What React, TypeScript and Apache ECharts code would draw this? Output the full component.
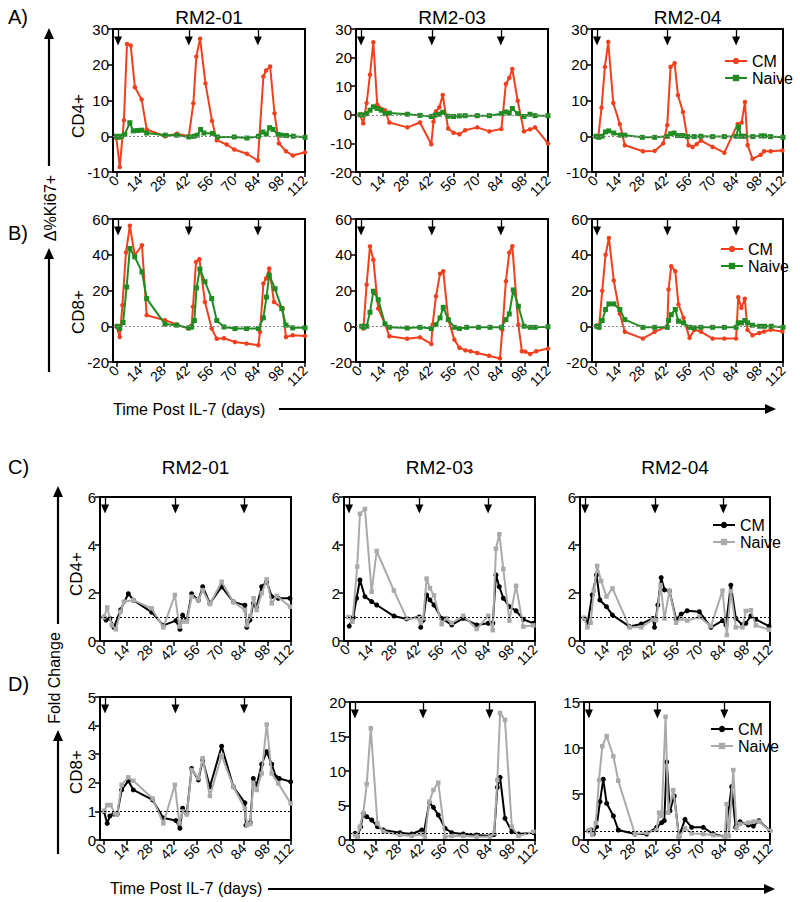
import React, { useEffect, useRef } from 'react';
import * as echarts from 'echarts';

// ---------- axis / category info ----------
const X_TICKS = [0, 14, 28, 42, 56, 70, 84, 98, 112];
const ARROW_DAYS = [1, 43, 84];
const SUBJECTS = ['RM2-01', 'RM2-03', 'RM2-04'];

// ---------- data: [day, value] ----------
// A) CD4+  Δ%Ki67+
const A1_CM = [[0,-0.5],[2,-8.6],[4.5,4.5],[6.3,25.8],[8.5,25.4],[11,13.7],[15,10.3],[18,1.9],[29,0],[36,0.7],[43,0],[45.7,9.2],[47.5,22.3],[49.7,27.3],[52.9,14.8],[56.8,4.3],[59.6,-1.1],[65.5,-2.3],[70,-3.7],[77.5,-4.9],[84,-6.8],[87.3,16.7],[88.9,18.4],[91.3,19.5],[93.9,6.4],[96.5,-2],[100.7,-4.2],[104.8,-5.4],[112,-4.5]];
const A1_NAIVE = [[0,0],[1.2,-0.3],[3,0],[5,0.5],[8,3.8],[10,1.5],[12.5,1.6],[15,1.7],[18,0.9],[29,0.3],[36,0.3],[43,-0.2],[46,0],[48,0.3],[50,1.9],[52,0.9],[57,0.8],[60,-0.2],[70,-0.2],[77.5,-0.5],[84.4,0],[87,1.2],[89,0.6],[91,2.4],[93,1.9],[96,0.5],[98,0.3],[101,0.2],[105,0],[112,-0.3]];
const A2_CM = [[0.4,0],[2.3,-3],[4.3,4.1],[6.3,14],[8.3,25.4],[10.6,3.5],[15.2,1.6],[17.8,-2.7],[28.5,-4.4],[36,-2.7],[42.7,-10.3],[44,-2.4],[45.5,1.2],[47.5,2.6],[49.5,6.9],[52.7,-4.8],[55.9,-6.3],[59.4,-6.8],[62.8,-5.4],[70,-4.4],[77.2,-5.8],[84.3,-5],[87,10.8],[89,12.9],[90.8,16],[94,4.9],[97.7,-5.8],[101.3,-5.1],[104.3,-4.4],[112,-10]];
const A2_NAIVE = [[0.4,0],[2.3,0],[4.3,0.4],[6.3,1.6],[8.3,2.8],[10.6,2.2],[13,1.6],[15.2,0.4],[17.8,0.6],[28.5,0.2],[36,-0.2],[42.7,-0.6],[45,-0.1],[47.5,0.2],[49.5,0.9],[52.7,-0.5],[55.9,-0.6],[59.4,-0.4],[62.8,-0.3],[70,-0.3],[77.2,-0.3],[84.3,0.4],[87,1],[89,0.6],[90.8,2.2],[94,0.4],[97.7,-0.6],[101.3,0.2],[104.3,-0.3],[112,-0.3]];
const A3_CM = [[0.4,0],[1.8,0],[3.7,8],[5.7,19.4],[7.7,26.4],[10.7,9.3],[14.6,3.4],[17.6,-2.5],[28.4,-4.2],[35.4,-4.1],[40.5,-2],[42.9,3.1],[44.9,19.4],[47.3,20.4],[49.3,11.5],[52.3,6.8],[55.6,-2.5],[58,-3],[60.5,-2.2],[63,-1.2],[70,-3],[77,-4.6],[84.9,3.4],[87.3,3.8],[89.3,9.6],[90.9,-2.5],[93.8,-6.3],[98.7,-5.2],[100.7,-4.2],[104.6,-4.2],[111.6,-4]];
const A3_NAIVE = [[0.4,0],[2,-0.3],[4,0],[6,1.2],[8,1.5],[11,0.9],[15,0.3],[17.6,0.3],[28,-0.3],[35.4,-0.3],[43,0],[45,0.7],[47,0.9],[49,0.2],[52,0.2],[55,-0.1],[59,-0.1],[63,0],[70,-0.1],[77,-0.1],[84,0],[85.5,2.6],[87,0],[89,0],[94,-0.1],[99,0.1],[101,0.1],[104.6,-0.1],[112,-0.3]];

// B) CD8+  Δ%Ki67+
const B1_CM = [[0,0],[2,-6],[3.6,11.8],[5.7,41.3],[8,56.2],[10.9,39.7],[15.2,45.3],[18,6.2],[28.9,3.4],[35.8,1],[42.9,-1.3],[44.7,0.5],[45.5,11],[47.3,36],[49.3,37.5],[52.6,13.6],[56.6,-1.3],[59.6,-7],[63.9,-6.7],[70.4,-8.8],[77.3,-9.7],[84.3,-10.6],[85.3,-3.2],[87.3,23.9],[88.9,26.7],[90.8,32.3],[93.6,13.6],[98.7,9.9],[100.7,-6],[104.7,-5],[112,-5.4]];
const B1_NAIVE = [[0.6,0],[2,-1.3],[4,2.1],[6.1,22],[8,43.5],[10.9,38.8],[15.2,30.4],[18,15.5],[28.9,1.2],[35.8,0.6],[42.9,-0.9],[44.7,-0.5],[46.3,3.2],[47.6,21.5],[49.6,32],[52.6,24.9],[56.6,15.5],[59.6,3.2],[63.9,-0.4],[70.4,-1.3],[77.3,-1.3],[84.3,-1.3],[87.3,4.7],[89.1,16.3],[90.8,28.6],[94.2,21],[98.2,9.9],[100.7,0.6],[104.7,-0.9],[112,-0.9]];
const B2_CM = [[1.4,0],[2.4,-1.3],[4.3,23.2],[6.3,44.7],[8.3,37.2],[11.2,9.9],[15.2,1.3],[17.8,-5.6],[28.4,-7],[36,-6.2],[42.7,-9.9],[43.5,0.9],[45.5,16.8],[47.9,29.4],[49.8,30.8],[52.8,3.7],[56.4,-7.5],[59.4,-12],[63,-13.5],[66,-14],[70,-15],[77,-16.5],[83.5,-18],[84.9,-1.9],[87,25.2],[89,41.1],[90.8,44.8],[94.4,0.9],[96.5,-14],[98.5,-14.2],[101.4,-15.5],[105,-14],[112,-12.5]];
const B2_NAIVE = [[1.4,0],[2.6,-0.6],[4.3,0],[6.3,7.8],[8.3,19.6],[11.2,14.9],[15.2,1.3],[17.8,-0.6],[28.4,-1],[36,-0.6],[42.7,-1.3],[45.5,0.9],[47.9,4.7],[49.8,10.6],[52.8,3.7],[56.4,-0.6],[59.4,-1.3],[63.7,-0.6],[70.7,-0.6],[77.6,-0.6],[84.3,-0.6],[87,3.7],[89,6.9],[91.4,20.3],[94.4,11.2],[97.8,0],[101.4,-0.6],[104.4,-0.6],[112,-0.3]];
const B3_CM = [[0.8,0.4],[2.2,-0.6],[4.1,19.8],[6.1,40],[8.1,49.4],[11,25.6],[14.6,7],[17.6,-3.1],[28.4,-6.9],[35.4,-3.1],[42.9,0],[43.7,20.6],[45.3,33.6],[47.7,30.8],[49.6,12.2],[52.6,4.7],[56.2,-6.5],[59.1,-2],[63.1,-3.1],[70,-6.9],[77,-6.9],[84,-6.9],[85.3,16.2],[87.2,10.3],[89.2,15.4],[90.8,-2],[93.8,-5],[97.8,-3.8],[100.7,-2.9],[104.6,-2],[111.6,-2.9]];
const B3_NAIVE = [[0.8,0],[2.2,-0.6],[4.1,3.2],[6.1,9.4],[8.1,12.5],[11,12.5],[14.6,9.4],[17.6,3.7],[28.4,-0.6],[35.4,-0.6],[42.9,-0.6],[43.7,3.2],[45.3,6.5],[47.7,9.4],[49.6,2.8],[52.6,1.9],[56.2,-0.6],[59,-0.9],[63,-0.6],[70,-0.6],[77,-0.6],[84,-0.6],[85.3,1.9],[87.2,1.9],[89.2,3.2],[90.8,1.9],[93.8,0.6],[98,0],[101,0],[105,0],[112,-0.6]];

// C) CD4+  Fold change
const C1_CM = [[0.4,1.0],[1.6,0.87],[3.9,0.94],[6.3,0.57],[10.3,1.3],[14.9,1.97],[17.9,1.7],[28.8,1.2],[35.8,0.65],[43.3,0.85],[45.7,0.49],[47.3,1.08],[49.8,0.87],[52.7,1.97],[56.7,1.7],[59.3,2.26],[63.6,1.57],[70.6,2.26],[77.6,1.63],[84.5,1.49],[85.6,0.57],[87.5,0.87],[89.5,1.57],[91.5,1.44],[94.5,2.26],[97.5,2.47],[100.5,1.85],[104.4,1.78],[111.4,1.78]];
const C1_NAIVE = [[0.4,0.99],[2.3,1.4],[5,0.66],[7.5,0.49],[10.3,1.22],[12.3,1.64],[17.9,1.7],[28.8,1.36],[35.8,0.57],[42.7,1.92],[45.4,0.6],[47.3,0.81],[49.8,0.81],[52.7,1.85],[56.7,1.7],[59.3,2.12],[63.6,1.54],[70.6,2.47],[77.6,1.63],[84.5,1.29],[85.8,0.66],[87.7,1.04],[89.7,1.78],[91.5,1.29],[94.5,1.99],[97.5,2.57],[100.5,1.57],[103.5,1.88],[111.4,1.43]];
const C2_CM = [[1.1,0.62],[3.5,0.98],[5.5,1.78],[7.5,2.54],[10.5,1.85],[14.5,1.64],[17.5,1.5],[27.8,1.04],[35.4,0.92],[42.9,1.0],[43.8,0.57],[45.3,0.87],[47.3,1.92],[49.3,1.71],[51.7,1.5],[56.3,0.94],[62.3,0.67],[69.2,0.94],[77.2,0.67],[84.1,0.74],[86.8,0.74],[88.7,2.75],[90.7,2.26],[93.1,1.78],[96.7,1.43],[100.7,1.26],[105,0.9],[111,0.74]];
const C2_NAIVE = [[0.6,1.0],[3,0.8],[5.9,3.1],[7.5,5.3],[10.5,5.5],[14.5,2.05],[17.5,3.75],[27.8,2.1],[35.4,0.95],[42.9,0.95],[43.8,0.75],[45.3,0.95],[47.3,2.6],[49.3,2.2],[51.7,1.9],[56.3,0.7],[59,0.95],[62.3,0.75],[69.2,1.05],[77.2,0.5],[84.1,1.05],[86.8,0.45],[88.7,3.85],[90.7,4.45],[93.1,3.0],[96.7,0.85],[100.7,2.3],[105,0.6],[111,0.65]];
const C3_CM = [[0.6,0.94],[2.6,0.74],[5.3,1.92],[7.9,2.75],[9.9,1.71],[13.9,1.43],[17.5,1.08],[27.8,0.6],[34.8,0.71],[41.7,0.94],[42.7,0.57],[44.7,1.5],[46.7,2.64],[48.7,2.13],[51.7,2.08],[55.7,0.9],[58.7,1.12],[62.3,1.26],[69.6,1.22],[76.6,0.57],[83.5,0.85],[85.6,0.67],[88.5,2.33],[91.5,0.94],[95.5,0.67],[97.5,0.74],[100.5,1.04],[103.5,0.9],[111.4,0.62]];
const C3_NAIVE = [[0.4,0.97],[2.4,0.57],[4.4,0.76],[6.3,2.1],[8.3,3.13],[10.7,2.5],[13.9,1.85],[17.5,2.19],[27.8,0.57],[34.8,0.57],[41.7,0.9],[43.7,0.87],[46.3,2.33],[48.7,0.94],[51.7,2.1],[55.7,0.76],[58.7,0.94],[62.3,0.85],[69.6,1.0],[76.6,0.62],[83.5,2.1],[86.1,0.25],[88.5,2.08],[91.5,0.57],[95.5,0.57],[97.5,1.25],[100.5,1.28],[103.5,0.65],[111.4,0.47]];

// D) CD8+  Fold change
const D1_CM = [[0.4,1.0],[2.3,0.58],[3.9,0.84],[6.3,0.91],[8.3,0.91],[10.9,1.75],[14.9,2.07],[17.9,1.75],[29.4,1.4],[35.8,0.77],[43.3,0.68],[45.7,0.41],[47.3,1.11],[49.8,0.93],[52.7,2.5],[56.7,2.1],[59.3,2.8],[63.6,1.86],[70.6,3.28],[77.6,1.86],[84.5,1.3],[85.1,0.52],[87.7,0.61],[89.5,2.15],[91.5,1.92],[94.5,2.65],[97.5,3.09],[100.5,2.65],[103,2.2],[105,2.15],[111.8,2.04]];
const D1_NAIVE = [[0.4,1.02],[2.3,1.22],[4.3,1.22],[6.9,0.93],[8.3,0.91],[10.9,1.93],[14.9,2.19],[17.9,2.07],[29.4,1.45],[35.8,0.58],[42.7,1.93],[45.4,0.58],[47.3,1.0],[49.8,0.89],[52.7,2.45],[56.7,2.16],[59.3,2.86],[63.6,1.54],[70.6,2.96],[77.6,1.86],[84.5,1.1],[85.8,0.52],[87.7,0.56],[89.5,2.0],[91.5,1.75],[94.5,2.33],[97.5,4.04],[100.5,2.33],[104.4,1.98],[111.8,1.28]];
const D2_CM = [[1.1,0.97],[2.5,0.5],[4.6,1.9],[6.2,3.86],[8.3,3.38],[11.4,2.9],[14.9,1.93],[18.5,1.45],[28.8,1.06],[36,0.87],[42.2,1.45],[43.6,1.2],[46.9,5.41],[49.4,4.73],[52.4,3.62],[56.6,1.69],[60.7,1.06],[67.8,0.87],[76,0.72],[84.3,0.58],[86.8,0.8],[88.8,7.63],[90.5,9.08],[93.5,3.14],[97.7,1.21],[101.8,0.87],[111,1.06]];
const D2_NAIVE = [[1.1,0.72],[2.5,0.48],[4,1.9],[6.2,3.86],[8.3,8.1],[10.8,16.2],[14.9,2.4],[18.5,1.21],[28.8,0.72],[36,0.58],[42.2,0.87],[44.2,0.48],[46.9,5.55],[49.4,7.25],[52.4,8.31],[56.6,0.48],[60.7,0.58],[67.8,0.58],[76,0.48],[84.3,0.48],[86.8,0.97],[88.8,8.7],[90.5,18.4],[93.5,17.4],[97.7,1.93],[101.8,0.58],[111,1.2]];
const D3_CM = [[0.8,1.0],[2.3,1.09],[3.7,0.65],[5.7,1.45],[7.8,4.17],[9.8,6.6],[11.9,3.99],[16,2.61],[19,1.09],[29.2,0.65],[36.4,0.65],[42.5,1.38],[45.6,1.88],[47.2,2.1],[48.7,8.5],[50.7,3.17],[53.3,4.78],[56.2,0.36],[59.9,2.25],[64,1.38],[71.1,1.38],[77.2,0.65],[84.4,0.36],[88.5,5.8],[90.9,1.38],[93.6,1.99],[98.7,1.63],[101.8,1.52],[105.2,2.1],[112,1.0]];
const D3_NAIVE = [[0.8,1.0],[1.6,1.05],[3.1,0.58],[5.2,1.85],[7.2,6.5],[9.2,10.2],[11.9,11.3],[16,9.1],[19,6.45],[29.2,0.65],[36.4,0.8],[42.5,1.09],[44,2.97],[45.6,2.61],[48,13.4],[49.6,2.97],[52.7,5.43],[56.2,0.36],[59.9,1.27],[64,0.72],[71.1,0.65],[77.2,0.54],[84.4,0.36],[85.4,3.9],[86.8,0.43],[89.5,7.6],[91.5,1.27],[93.6,1.74],[98.7,1.88],[101.8,1.99],[105.2,1.99],[112,1.0]];

// ---------- styling ----------
const RED = '#f0401e';
const GREEN = '#1f8c22';
const BLACK = '#000000';
const GRAY = '#aaaaaa';
const FONT = '"Liberation Sans", Arial, Helvetica, sans-serif';

type Panel = {
  box: [number, number, number, number];
  ymin: number; ymax: number; yint: number;
  cm: number[][]; naive: number[][];
  top: boolean; ref: number;
};

const PANELS: Panel[] = [
  { box: [113, 29, 192, 143], ymin: -10, ymax: 30, yint: 10, cm: A1_CM, naive: A1_NAIVE, top: true, ref: 0 },
  { box: [356, 29, 192, 143], ymin: -20, ymax: 30, yint: 10, cm: A2_CM, naive: A2_NAIVE, top: true, ref: 0 },
  { box: [592, 29, 191, 143], ymin: -10, ymax: 30, yint: 10, cm: A3_CM, naive: A3_NAIVE, top: true, ref: 0 },
  { box: [113, 219, 192, 143], ymin: -20, ymax: 60, yint: 20, cm: B1_CM, naive: B1_NAIVE, top: true, ref: 0 },
  { box: [356, 219, 192, 143], ymin: -20, ymax: 60, yint: 20, cm: B2_CM, naive: B2_NAIVE, top: true, ref: 0 },
  { box: [592, 219, 191, 143], ymin: -20, ymax: 60, yint: 20, cm: B3_CM, naive: B3_NAIVE, top: true, ref: 0 },
  { box: [100, 497, 191, 144], ymin: 0, ymax: 6, yint: 2, cm: C1_CM, naive: C1_NAIVE, top: false, ref: 1 },
  { box: [344, 497, 191, 144], ymin: 0, ymax: 6, yint: 2, cm: C2_CM, naive: C2_NAIVE, top: false, ref: 1 },
  { box: [580, 497, 190, 144], ymin: 0, ymax: 6, yint: 2, cm: C3_CM, naive: C3_NAIVE, top: false, ref: 1 },
  { box: [100, 697, 191, 143], ymin: 0, ymax: 5, yint: 1, cm: D1_CM, naive: D1_NAIVE, top: false, ref: 1 },
  { box: [350, 702, 185, 138], ymin: 0, ymax: 20, yint: 5, cm: D2_CM, naive: D2_NAIVE, top: false, ref: 1 },
  { box: [584, 702, 186, 138], ymin: 0, ymax: 15, yint: 5, cm: D3_CM, naive: D3_NAIVE, top: false, ref: 1 },
];

function txt(text: string, x: number, y: number, size: number, opts: any = {}) {
  return {
    type: 'text', x, y, rotation: opts.rotation || 0, silent: true,
    style: {
      text, fill: '#000', font: `${size}px ${FONT}`,
      textAlign: opts.align || 'center', align: opts.align || 'center',
      textVerticalAlign: 'middle', verticalAlign: 'middle',
    },
  };
}

function vArrow(x: number, yBottom: number, yTip: number) {
  return [
    { type: 'line', silent: true, shape: { x1: x, y1: yBottom, x2: x, y2: yTip + 8 }, style: { stroke: '#000', lineWidth: 2.2 } },
    { type: 'polygon', silent: true, shape: { points: [[x, yTip], [x - 5, yTip + 11], [x + 5, yTip + 11]] }, style: { fill: '#000' } },
  ];
}
function hArrow(y: number, xLeft: number, xTip: number) {
  return [
    { type: 'line', silent: true, shape: { x1: xLeft, y1: y, x2: xTip - 8, y2: y }, style: { stroke: '#000', lineWidth: 2.2 } },
    { type: 'polygon', silent: true, shape: { points: [[xTip, y], [xTip - 11, y - 5], [xTip - 11, y + 5]] }, style: { fill: '#000' } },
  ];
}

function buildOption() {
  const grid: any[] = [];
  const xAxis: any[] = [];
  const yAxis: any[] = [];
  const series: any[] = [];

  PANELS.forEach((p, i) => {
    const [left, top, width, height] = p.box;
    grid.push({ left, top, width, height, show: true, borderColor: '#000', borderWidth: 2, backgroundColor: 'transparent' });
    xAxis.push({
      gridIndex: i, type: 'value', min: -2, max: 112,
      axisLine: { show: true, onZero: false, lineStyle: { color: '#000', width: 2 } },
      axisTick: { show: true, customValues: X_TICKS, length: 5, lineStyle: { color: '#000', width: 1.5 } },
      axisLabel: { customValues: X_TICKS, rotate: 45, fontSize: 14, color: '#000', fontFamily: FONT, margin: 6 },
      splitLine: { show: false },
    });
    yAxis.push({
      gridIndex: i, type: 'value', min: p.ymin, max: p.ymax, interval: p.yint,
      axisLine: { show: true, onZero: false, lineStyle: { color: '#000', width: 2 } },
      axisTick: { show: true, length: 5, lineStyle: { color: '#000', width: 1.5 } },
      axisLabel: { fontSize: 15, color: '#000', fontFamily: FONT, margin: 4 },
      splitLine: { show: false },
    });
    const range = p.ymax - p.ymin;
    const pxPerUnit = height / range;
    const cmColor = p.top ? RED : BLACK;
    const nvColor = p.top ? GREEN : GRAY;
    // injection arrows: shaft (markLine) + head (triangle scatter)
    series.push({
      type: 'scatter', name: 'il7', xAxisIndex: i, yAxisIndex: i,
      data: ARROW_DAYS.map((d) => [d, p.ymax - 12 / pxPerUnit]),
      symbol: 'triangle', symbolRotate: 180, symbolSize: [8, 9],
      itemStyle: { color: '#000', opacity: 1 }, silent: true, z: 5,
      markLine: {
        silent: true, symbol: ['none', 'none'], label: { show: false },
        lineStyle: { color: '#000', width: 1.3, type: 'solid', opacity: 1 },
        data: ARROW_DAYS.map((d) => [{ coord: [d, p.ymax] }, { coord: [d, p.ymax - 10 / pxPerUnit] }]),
      },
    });
    series.push({
      type: 'line', name: p.top ? 'CM' : 'CM ', xAxisIndex: i, yAxisIndex: i,
      data: p.cm,
      symbol: 'circle', symbolSize: p.top ? 4.5 : 5,
      lineStyle: { color: cmColor, width: 2 }, itemStyle: { color: cmColor },
      z: 3,
      markLine: {
        silent: true, symbol: ['none', 'none'], label: { show: false },
        lineStyle: { color: p.top ? '#888' : '#000', width: 1, type: [2, 2], opacity: 1 },
        data: [{ yAxis: p.ref }],
      },
    });
    series.push({
      type: 'line', name: p.top ? 'Naive' : 'Naive ', xAxisIndex: i, yAxisIndex: i,
      data: p.naive,
      symbol: 'rect', symbolSize: p.top ? 5 : 4.5,
      lineStyle: { color: nvColor, width: 2 }, itemStyle: { color: nvColor },
      z: 4,
    });
  });

  const legendBase = {
    orient: 'vertical', itemWidth: 22, itemHeight: 8, itemGap: 1,
    textStyle: { fontSize: 16, color: '#000', fontFamily: FONT },
    selectedMode: false,
  };
  const legend = [
    { ...legendBase, data: ['CM', 'Naive'], left: 719, top: 48 },
    { ...legendBase, data: ['CM', 'Naive'], left: 715, top: 236 },
    { ...legendBase, data: ['CM ', 'Naive '], left: 707, top: 512, formatter: (n: string) => n.trim() },
    { ...legendBase, data: ['CM ', 'Naive '], left: 705, top: 716, formatter: (n: string) => n.trim() },
  ];

  const g: any[] = [];
  [0, 1, 2].forEach((k) => {
    const a = PANELS[k].box;
    g.push(txt(SUBJECTS[k], a[0] + a[2] / 2, 17, 19));
    const c = PANELS[6 + k].box;
    g.push(txt(SUBJECTS[k], c[0] + c[2] / 2, 467, 19));
  });
  g.push(txt('A)', 8, 17, 20, { align: 'left' }));
  g.push(txt('B)', 8, 233, 20, { align: 'left' }));
  g.push(txt('C)', 8, 467, 20, { align: 'left' }));
  g.push(txt('D)', 8, 684, 20, { align: 'left' }));
  g.push(txt('CD4+', 78, 116, 17, { rotation: Math.PI / 2 }));
  g.push(txt('CD8+', 78, 312, 17, { rotation: Math.PI / 2 }));
  g.push(txt('CD4+', 76, 574, 17, { rotation: Math.PI / 2 }));
  g.push(txt('CD8+', 76, 772, 17, { rotation: Math.PI / 2 }));
  g.push(txt('Δ%Ki67+', 50, 208, 16, { rotation: Math.PI / 2 }));
  g.push(...vArrow(49, 166, 28), ...vArrow(49, 372, 248));
  g.push(txt('Fold Change', 54, 678, 16, { rotation: Math.PI / 2 }));
  g.push(...vArrow(58, 624, 486), ...vArrow(58, 854, 730));
  g.push(txt('Time Post IL-7 (days)', 113, 409, 16, { align: 'left' }));
  g.push(...hArrow(409, 279, 776));
  g.push(txt('Time Post IL-7 (days)', 110, 888, 16, { align: 'left' }));
  g.push(...hArrow(889, 268, 775));

  return {
    animation: false,
    backgroundColor: '#ffffff',
    textStyle: { fontFamily: FONT },
    grid, xAxis, yAxis, series, legend,
    graphic: { elements: g },
  };
}

export default function App() {
  const ref = useRef<HTMLDivElement>(null);
  useEffect(() => {
    if (!ref.current) return;
    const chart = echarts.init(ref.current, undefined, { renderer: 'svg' });
    chart.setOption(buildOption() as any);
    return () => chart.dispose();
  }, []);
  return <div ref={ref} style={{ position: 'absolute', left: 0, top: 0, width: 800, height: 902 }} />;
}
